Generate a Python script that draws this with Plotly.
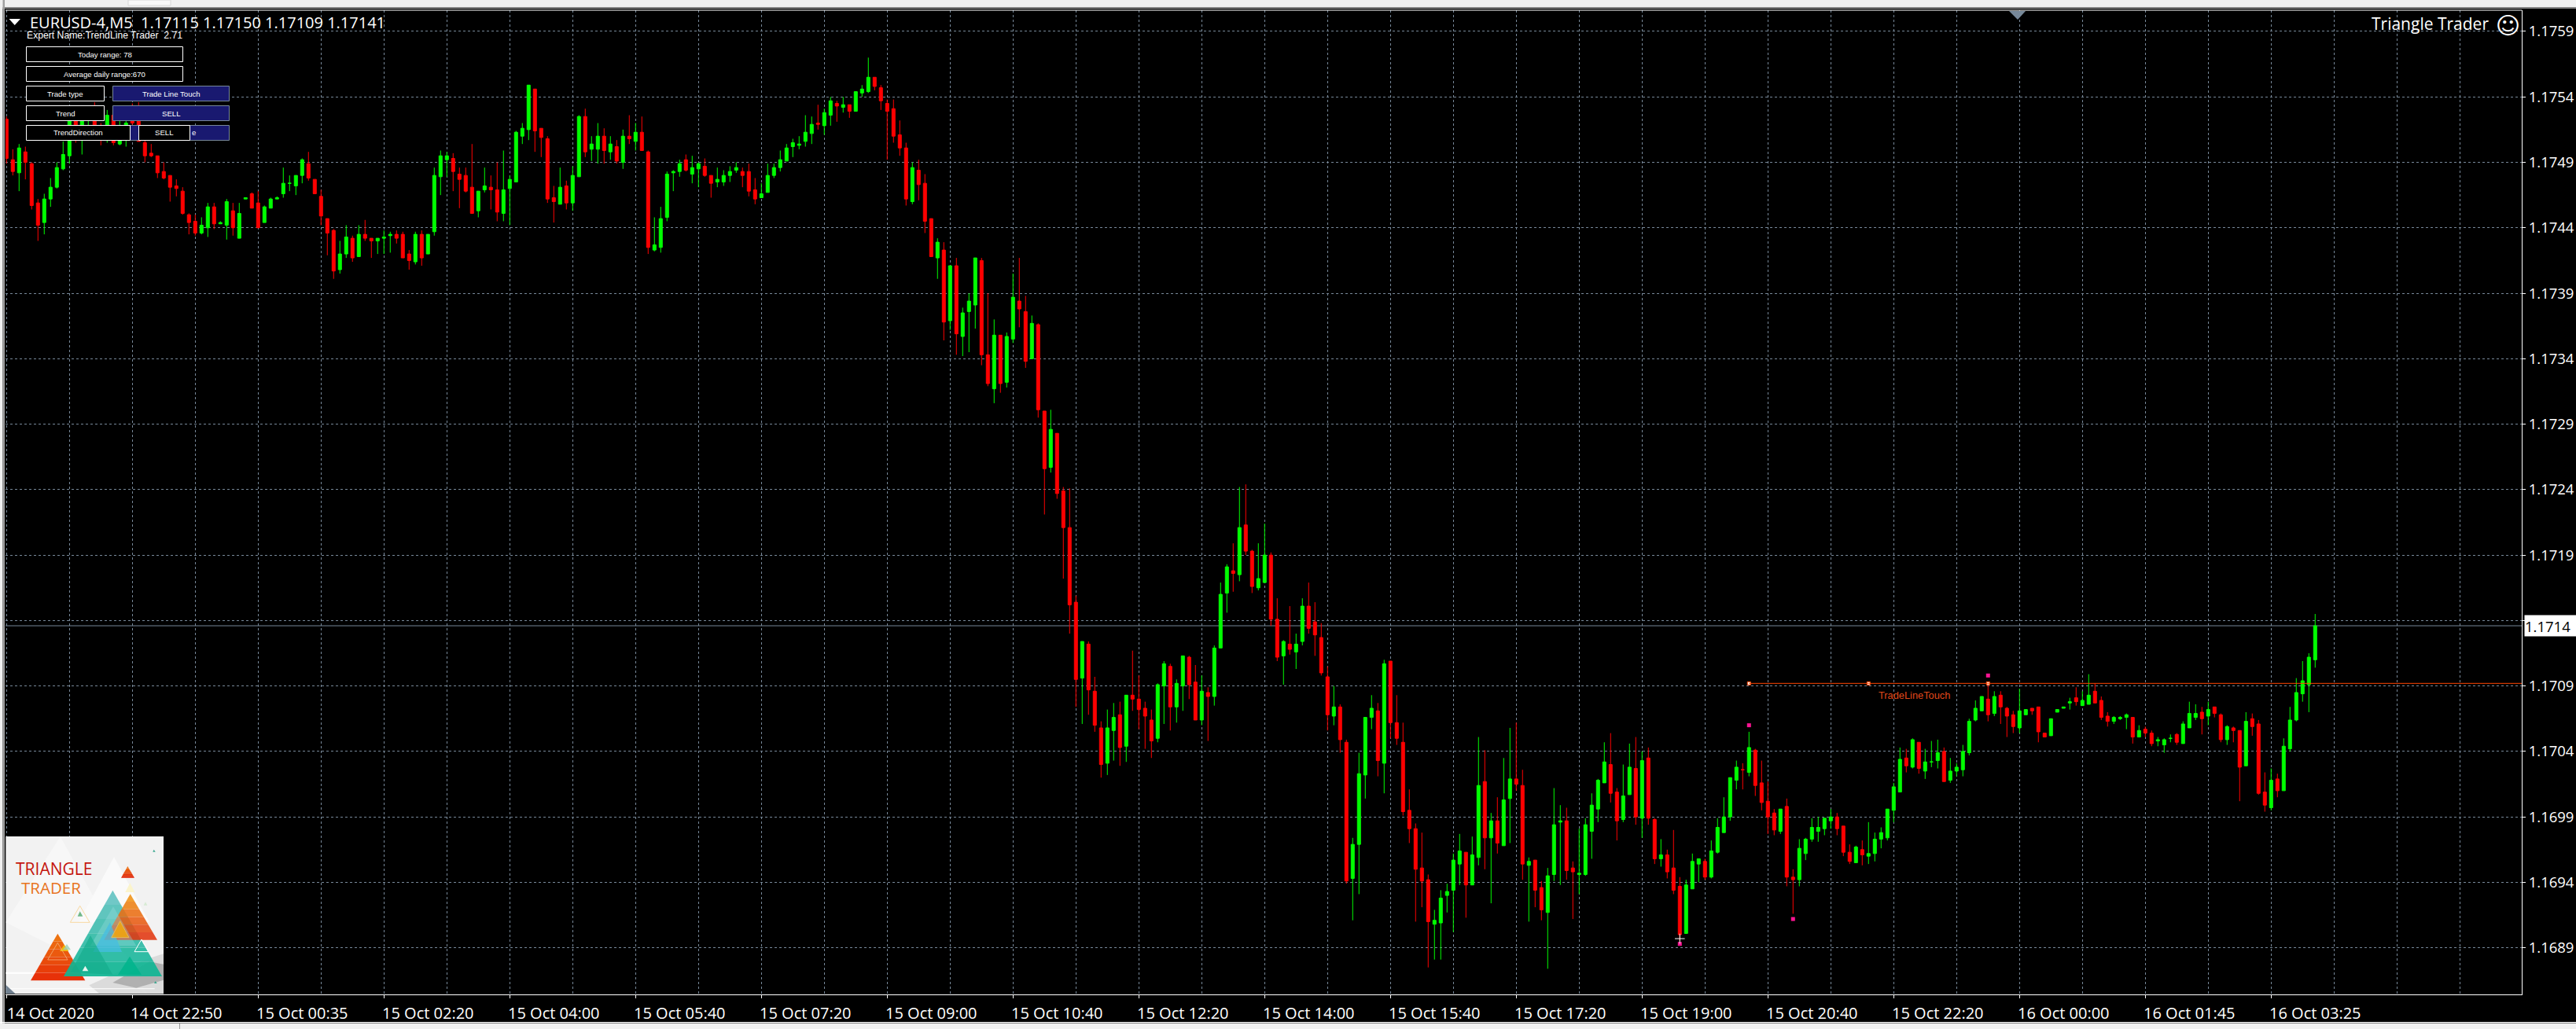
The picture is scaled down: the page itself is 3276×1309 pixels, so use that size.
import plotly.graph_objects as go

# ---------- candle values, in points (1e-5 of a price unit) ----------
direction = ("RRGRRRGGGG" "GRGGRRGRGG" "RRRRRRRRRR" "RGGRGGRGGR" "RGGGGGGGRR"
             "RRRGGRGRRG" "GGRRRGRGGG" "GRRRRGGRRG" "GGGGRRRRGR" "GGRGGRGRGR"
             "GRRGGGGGRG" "GRRGGGGRRR" "GGGGGGGGGR" "GGRGRGGGRR" "RRRRGRRRGR"
             "GRGGGRRGRG" "GRRGRRGRRR" "RGRRRGGRGR" "RRRGGRGGRR" "GRGGGRGRRG"
             "GRRGRGGRRR" "RGRRGGGGRG" "RRRRRRRGGG" "GGRGGRGRGG" "RRGRRGGGRR"
             "GGGGGRRGGR" "GRRGRRRGGG" "RGGGGGGGRR" "RRGRRGGGGG" "GRRRGRGGGG"
             "GGRGRGGGRG" "GGGGGRGRRR" "GGRRRGGGGR" "GGRRRGGGRG" "RRGGGRGGGR"
             "GRRGRRGRRR" "GRGGGGGG")

body_top = [
117528,117497,117506,117503,117494,117464,117467,117476,117491,117501,
117527,117529,117529,117522,117529,117522,117531,117531,117515,117525,
117527,117527,117510,117502,117500,117488,117485,117477,117473,117455,
117450,117447,117461,117461,117449,117465,117458,117456,117468,117471,
117464,117461,117467,117468,117479,117479,117485,117497,117494,117482,
117469,117452,117443,117425,117438,117437,117440,117440,117437,117437,
117438,117440,117440,117440,117425,117440,117440,117440,117485,117500,
117500,117498,117486,117485,117476,117473,117477,117476,117474,117474,
117482,117518,117521,117554,117551,117521,117513,117468,117476,117477,
117485,117530,117530,117509,117515,117515,117509,117507,117515,117515,
117518,117518,117503,117432,117452,117486,117488,117494,117497,117491,
117494,117492,117485,117482,117485,117488,117491,117488,117488,117474,
117471,117485,117491,117497,117506,117510,117509,117518,117524,117525,
117533,117542,117540,117539,117539,117549,117551,117560,117560,117552,
117540,117536,117516,117506,117491,117489,117479,117452,117434,117428,
117416,117416,117380,117389,117422,117420,117348,117363,117363,117362,
117392,117389,117381,117372,117371,117305,117291,117288,117244,117216,
117159,117129,117127,117091,117063,117063,117071,117073,117088,117088,
117085,117078,117069,117096,117112,117110,117097,117118,117117,117098,
117091,117090,117124,117165,117186,117183,117216,117218,117198,117177,
117195,117195,117146,117129,117127,117127,117156,117156,117144,117132,
117102,117079,117079,117052,116974,117028,117071,117078,117076,117112,
117114,117067,117052,117000,116986,116956,116947,116916,116933,116938,
116962,116969,116968,116966,117019,117022,116992,116992,117008,117024,
117024,117019,116961,116962,116941,116950,116989,116992,116992,116956,
116952,116989,117004,117023,117037,117035,117014,117011,117033,117032,
117038,117040,116993,116966,116966,116956,116942,116943,116961,116963,
116961,116969,116987,116995,117025,117033,117031,117048,117046,117021,
117007,116998,117001,117003,116949,116971,116978,116987,116987,116994,
116995,116995,116988,116968,116972,116970,116967,116978,116983,117001,
117018,117039,117040,117054,117052,117037,117037,117044,117045,117030,
117033,117045,117068,117078,117087,117085,117087,117088,117078,117073,
117076,117077,117078,117079,117059,117070,117077,117079,117083,117086,
117084,117088,117091,117084,117072,117071,117071,117073,117071,117061,
117062,117059,117054,117054,117055,117058,117066,117074,117074,117075,
117077,117079,117073,117064,117063,117061,117068,117070,117066,117014,
117023,117024,117049,117069,117090,117099,117117,117141]

body_bottom = [
117498,117488,117487,117495,117462,117447,117449,117467,117476,117490,
117500,117521,117522,117515,117522,117515,117522,117510,117509,117519,
117525,117511,117500,117500,117487,117483,117476,117475,117456,117449,
117441,117441,117445,117448,117448,117447,117445,117437,117467,117460,
117445,117449,117460,117467,117471,117479,117477,117485,117483,117471,
117454,117441,117412,117413,117425,117422,117423,117437,117435,117435,
117437,117439,117437,117422,117420,117419,117422,117425,117442,117484,
117497,117488,117482,117473,117456,117458,117474,117474,117457,117456,
117475,117480,117515,117520,117519,117514,117467,117465,117463,117464,
117464,117484,117503,117505,117505,117504,117503,117496,117495,117513,
117511,117504,117430,117428,117430,117453,117487,117488,117489,117486,
117490,117485,117479,117480,117480,117485,117489,117485,117473,117467,
117468,117472,117485,117491,117496,117507,117508,117511,117517,117524,
117523,117531,117538,117537,117534,117534,117548,117549,117553,117542,
117534,117515,117506,117467,117465,117478,117450,117423,117422,117373,
117374,117364,117362,117381,117386,117348,117326,117322,117326,117327,
117360,117383,117343,117345,117306,117261,117262,117242,117216,117157,
117100,117101,117092,117065,117035,117036,117061,117048,117049,117085,
117077,117072,117053,117055,117095,117079,117079,117095,117096,117069,
117069,117087,117087,117124,117166,117181,117180,117198,117171,117170,
117174,117146,117117,117118,117123,117121,117129,117139,117134,117105,
117073,117072,117054,116946,116948,116974,117027,117071,117038,117036,
117067,117055,116999,116986,116955,116946,116915,116913,116914,116935,
116939,116959,116943,116943,116964,116979,116979,116975,116973,117009,
117020,116959,116958,116939,116924,116922,116951,116991,116954,116953,
116951,116951,116984,117001,117021,117013,116992,116993,117012,116995,
116994,116994,116963,116963,116953,116939,116905,116906,116940,116959,
116949,116949,116968,116983,116995,117023,117031,117029,117019,117006,
116995,116985,116984,116949,116947,116947,116967,116978,116984,116986,
116992,116986,116968,116961,116960,116966,116965,116967,116978,116979,
117000,117014,117034,117033,117032,117030,117037,117038,117022,117023,
117030,117031,117044,117069,117076,117073,117074,117079,117072,117064,
117063,117073,117076,117060,117056,117057,117075,117078,117082,117083,
117080,117081,117082,117071,117068,117068,117070,117071,117056,117056,
117059,117051,117053,117050,117055,117052,117051,117063,117071,117070,
117072,117074,117054,117054,117061,117033,117034,117064,117013,117004,
117002,117015,117015,117047,117069,117089,117096,117115]

highs = [
117530,117505,117509,117507,117495,117467,117471,117483,117495,117511,
117531,117533,117532,117527,117541,117525,117535,117533,117527,117529,
117540,117541,117512,117509,117500,117495,117485,117482,117476,117456,
117455,117453,117464,117464,117450,117467,117464,117464,117468,117472,
117473,117462,117468,117469,117491,117485,117485,117498,117503,117482,
117474,117452,117444,117435,117447,117439,117447,117451,117437,117437,
117443,117442,117443,117442,117428,117442,117443,117440,117491,117504,
117503,117502,117491,117491,117509,117473,117491,117485,117495,117504,
117485,117519,117525,117554,117551,117521,117515,117477,117491,117481,
117492,117531,117536,117515,117525,117521,117515,117512,117520,117531,
117525,117530,117504,117453,117461,117488,117489,117497,117501,117500,
117495,117498,117485,117491,117489,117492,117495,117491,117494,117483,
117479,117494,117494,117504,117509,117513,117515,117531,117530,117539,
117536,117545,117542,117545,117539,117549,117554,117575,117560,117554,
117543,117543,117527,117510,117495,117497,117486,117452,117437,117434,
117416,117422,117384,117395,117422,117422,117395,117375,117363,117365,
117410,117422,117393,117378,117372,117305,117306,117288,117247,117246,
117164,117129,117129,117102,117068,117077,117082,117083,117088,117122,
117103,117083,117077,117097,117114,117112,117100,117118,117118,117111,
117103,117094,117126,117174,117188,117204,117247,117249,117199,117204,
117219,117197,117162,117130,117156,117135,117162,117174,117159,117143,
117110,117095,117081,117054,116979,117044,117071,117088,117082,117115,
117114,117088,117067,117016,116990,116983,116951,116924,116939,116944,
116967,116982,116968,116980,117056,117046,116998,117010,117040,117063,
117067,117031,116964,116962,116946,116956,117017,117004,117002,116961,
116986,116994,117013,117024,117052,117059,117017,117035,117051,117056,
117045,117048,116994,116978,116970,116985,116949,116947,116967,116963,
116963,116977,116994,117010,117025,117038,117036,117060,117047,117038,
117022,117001,117001,117009,116955,116978,116979,116994,116995,116994,
117001,116998,116988,116974,116973,116977,116991,116983,116987,117001,
117021,117048,117047,117055,117052,117047,117053,117054,117048,117040,
117036,117050,117070,117084,117087,117096,117091,117091,117079,117076,
117093,117077,117078,117079,117059,117070,117077,117079,117086,117094,
117091,117104,117097,117087,117075,117072,117072,117074,117071,117065,
117064,117061,117056,117055,117058,117059,117068,117083,117081,117079,
117083,117079,117074,117065,117064,117061,117075,117074,117069,117029,
117032,117028,117055,117079,117101,117114,117120,117150]

lows = [
117494,117485,117473,117482,117459,117435,117440,117461,117475,117489,
117494,117510,117501,117514,117519,117508,117510,117508,117508,117507,
117515,117511,117495,117499,117483,117482,117465,117469,117455,117440,
117439,117440,117438,117444,117448,117436,117439,117437,117467,117460,
117445,117449,117460,117467,117468,117473,117470,117479,117481,117471,
117447,117424,117406,117410,117422,117419,117423,117435,117422,117425,
117425,117426,117433,117422,117413,117417,117416,117425,117439,117470,
117484,117473,117460,117472,117456,117453,117472,117459,117450,117450,
117447,117480,117509,117512,117503,117499,117464,117449,117463,117459,
117458,117484,117499,117496,117494,117494,117497,117494,117490,117509,
117504,117504,117425,117427,117426,117450,117473,117484,117488,117479,
117476,117484,117468,117476,117477,117480,117487,117476,117469,117463,
117468,117472,117483,117488,117496,117499,117505,117507,117509,117520,
117516,117523,117526,117533,117529,117534,117545,117548,117550,117535,
117497,117510,117500,117462,117463,117466,117441,117423,117406,117359,
117367,117348,117347,117350,117368,117340,117324,117311,117319,117323,
117357,117369,117338,117345,117300,117226,117258,117238,117177,117135,
117079,117066,117073,117060,117025,117027,117038,117034,117037,117076,
117062,117047,117040,117052,117066,117061,117067,117076,117085,117069,
117065,117053,117080,117124,117151,117167,117175,117195,117166,117168,
117174,117141,117114,117096,117119,117108,117126,117135,117118,117103,
117061,117065,117044,116944,116916,116936,117009,117062,117026,117013,
117055,117050,116996,116975,116915,116926,116880,116886,116886,116922,
116907,116943,116918,116943,116958,116955,116929,116967,116973,116975,
117015,116947,116915,116926,116916,116879,116946,116943,116947,116917,
116936,116950,116963,116991,117021,117006,116977,116991,117012,116989,
116979,116989,116959,116957,116948,116936,116900,116906,116940,116945,
116947,116948,116967,116983,116992,117016,117016,117026,117011,117000,
116982,116981,116982,116942,116921,116942,116962,116976,116976,116981,
116986,116981,116965,116959,116960,116958,116959,116961,116971,116977,
116991,117014,117029,117032,117028,117024,117033,117032,117022,117021,
117026,117026,117042,117068,117076,117068,117072,117066,117056,117059,
117059,117073,117073,117052,117056,117057,117075,117078,117077,117080,
117080,117081,117082,117069,117064,117066,117069,117062,117051,117056,
117056,117049,117049,117044,117052,117050,117051,117063,117069,117058,
117065,117071,117052,117050,117052,117007,117034,117057,117012,116999,
117000,117010,117015,117045,117068,117083,117075,117109]

# Other values
x_labels = ["14 Oct 2020", "14 Oct 22:50", "15 Oct 00:35", "15 Oct 02:20", "15 Oct 04:00",
            "15 Oct 05:40", "15 Oct 07:20", "15 Oct 09:00", "15 Oct 10:40", "15 Oct 12:20",
            "15 Oct 14:00", "15 Oct 15:40", "15 Oct 17:20", "15 Oct 19:00", "15 Oct 20:40",
            "15 Oct 22:20", "16 Oct 00:00", "16 Oct 01:45", "16 Oct 03:25"]
y_tick_points = [117595, 117545, 117495, 117445, 117395, 117345, 117295, 117245,
                 117195, 117145, 117095, 117045, 116995, 116945, 116895]
y_tick_labels = ["1.1759", "1.1754", "1.1749", "1.1744", "1.1739", "1.1734", "1.1729", "1.1724",
                 "1.1719", "", "1.1709", "1.1704", "1.1699", "1.1694", "1.1689"]
last_price_points = 117141
trend_line_points = 117097
trend_line_start_bar = 277
trend_anchor_bars = [277, 296, 315]
signal_bars = [266, 277, 284, 315]
signal_points = [116898, 117065, 116917, 117103]
cross_bar = [266]
cross_points = [116902]

P = 1e-5
n = len(direction)
bars = list(range(n))
opens = [(b if d == "G" else t) * P for d, t, b in zip(direction, body_top, body_bottom)]
closes = [(t if d == "G" else b) * P for d, t, b in zip(direction, body_top, body_bottom)]

W, H = 3276, 1309
L, R, T, B = 7, 3207, 13, 1265
GRID = "#778899"
FONT = "Open Sans"
SMALL = "Liberation Sans"


def px(x):
    return (x - L) / (R - L)


def py(y):
    return 1 - (y - T) / (B - T)


shapes, ann = [], []


def rect(x0, y0, x1, y1, fill, line=None, lw=1):
    shapes.append(dict(type="rect", xref="paper", yref="paper", layer="above",
                       x0=px(x0), x1=px(x1), y0=py(y0), y1=py(y1), fillcolor=fill,
                       line=dict(color=line or fill, width=lw if line else 0)))


def poly(pts, fill=None, line=None, lw=1, op=1.0):
    path = "M" + " L".join(f"{px(a):.6f},{py(b):.6f}" for a, b in pts) + " Z"
    shapes.append(dict(type="path", xref="paper", yref="paper", layer="above", path=path,
                       fillcolor=fill or "rgba(0,0,0,0)", opacity=op,
                       line=dict(color=line or "rgba(0,0,0,0)", width=lw if line else 0)))


def text(x, y, s, size, color="white", anchor="left", family=FONT, **kw):
    ann.append(dict(xref="paper", yref="paper", x=px(x), y=py(y), text=s, showarrow=False,
                    xanchor=anchor, yanchor="middle", font=dict(family=family, size=size, color=color),
                    borderpad=0, **kw))


# ---------- window frame ----------
rect(0, 0, W, 9.5, "#F0F0F0")
rect(0, 9.5, W, 11, "#8A8A8A")
rect(163, 0, 217, 7, "#F8F8F8", "#D8D8D8")
rect(0, 0, 3.5, H, "#F0F0F0")
rect(3.5, 0, 6, H, "#A0A0A0")
rect(0, 1300, W, 1301.5, "#FFFFFF")
rect(0, 1302, W, H, "#F0F0F0")
rect(228, 1302, 228.8, H, "#808080")
shapes.append(dict(type="line", xref="paper", yref="paper", layer="above", x0=0, x1=1, y0=1, y1=1,
                   line=dict(color="white", width=1)))
poly([(2555, 14), (2576, 14), (2566, 25)], fill="#778899")
poly([(11.5, 24), (26, 24), (18.7, 32)], fill="white")

# ---------- header ----------
text(37, 29, "EURUSD-4,M5\u00a0\u00a01.17115\u00a01.17150\u00a01.17109\u00a01.17141", 20)
text(33, 45, "Expert Name:TrendLine Trader\u00a0\u00a02.71", 12.2, family=SMALL)
text(3166, 30, "Triangle Trader", 21, anchor="right")
text(3189.5, 33, "\u263A", 30, anchor="center", family="DejaVu Sans")


# ---------- panel ----------
def button(x0, y0, x1, y1, label, blue=False, size=9.6):
    rect(x0, y0, x1, y1, "#191970" if blue else "black", "#778899" if blue else "white", 1)
    if label:
        text((x0 + x1) / 2, (y0 + y1) / 2, label, size, anchor="center", family=SMALL)


button(33.5, 59.5, 232.5, 78.5, "Today range: 78")
button(33.5, 84.5, 232.5, 103.5, "Average daily range:670")
button(33.5, 109.5, 132.5, 128.5, "Trade type")
button(143.5, 109.5, 291.5, 128.5, "Trade Line Touch", blue=True)
button(33.5, 134.5, 132.5, 153.5, "Trend")
button(143.5, 134.5, 291.5, 153.5, "SELL", blue=True)
button(143.5, 159.5, 291.5, 178.5, "", blue=True)
text(242.5, 169, "e", 9.6, family=SMALL)
button(33.5, 159.5, 165.5, 178.5, "TrendDirection")
button(176.5, 159.5, 241.5, 178.5, "SELL")


# ---------- logo (drawn in its own 3x coordinates) ----------
def lx(v):
    return v / 3


def ly(v):
    return 1040 + v / 3


def logo_tri(a, b, c, fill=None, line=None, lw=1, op=1.0):
    poly([(lx(p[0]), ly(p[1])) for p in (a, b, c)], fill=fill, line=line, lw=lw, op=op)


def mix(c1, c2, t):
    return "#" + "".join(f"{round(u + (v - u) * t):02X}" for u, v in zip(c1, c2))


def shaded_tri(apex, left, right, c_top, c_bottom, op=1.0, steps=6):
    for k in range(steps):
        t0, t1 = k / steps, (k + 1) / steps
        pts = [(apex[0] + (left[0] - apex[0]) * t0, apex[1] + (left[1] - apex[1]) * t0),
               (apex[0] + (right[0] - apex[0]) * t0, apex[1] + (right[1] - apex[1]) * t0),
               (apex[0] + (right[0] - apex[0]) * t1, apex[1] + (right[1] - apex[1]) * t1),
               (apex[0] + (left[0] - apex[0]) * t1, apex[1] + (left[1] - apex[1]) * t1)]
        poly([(lx(a), ly(b)) for a, b in pts], fill=mix(c_top, c_bottom, (t0 + t1) / 2), op=op)


rect(lx(22), ly(72), lx(624), ly(673), "#F2F2F2")
logo_tri((230, 72), (22, 400), (560, 672), fill="#F7F7F7")
logo_tri((435, 150), (300, 400), (570, 400), fill="#FAFAFA")
poly([(lx(340), ly(640)), (lx(560), ly(540)), (lx(624), ly(520)), (lx(624), ly(673)), (lx(380), ly(673))],
     fill="#C8C8C8", op=0.55)
poly([(lx(430), ly(630)), (lx(570), ly(550)), (lx(624), ly(560)), (lx(624), ly(620)), (lx(520), ly(650))],
     fill="#8C8C8C", op=0.55)
poly([(lx(22), ly(590)), (lx(330), ly(590)), (lx(330), ly(596)), (lx(22), ly(596))], fill="#FFFFFF")
poly([(lx(22), ly(652)), (lx(590), ly(652)), (lx(590), ly(655)), (lx(22), ly(655))], fill="#FFFFFF")
logo_tri((22, 638), (22, 672), (58, 672), fill="#708090")
shaded_tri((220, 443), (117, 622), (325, 622), (0xEE, 0x7A, 0x12), (0xE6, 0x2A, 0x08))
logo_tri((245, 485), (228, 510), (262, 510), fill="#F2B80C")
logo_tri((255, 483), (240, 505), (270, 505), fill="#9CCFB4", op=0.8)
logo_tri((220, 478), (182, 543), (258, 543), line="#F5C08A", lw=1, op=0.7)
shaded_tri((430, 278), (243, 606), (618, 606), (0x6C, 0xC4, 0xC6), (0x08, 0xB4, 0x90), op=0.92)
shaded_tri((497, 292), (397, 467), (600, 467), (0xF0, 0x9A, 0x14), (0xE0, 0x2E, 0x10), op=0.88)
logo_tri((432, 340), (345, 490), (520, 490), fill="#9ADCE0", op=0.35)
logo_tri((420, 400), (355, 513), (465, 513), fill="#46BCE2", op=0.75)
logo_tri((345, 450), (270, 590), (430, 600), fill="#14AC8C", op=0.65)
logo_tri((495, 530), (450, 600), (540, 600), fill="#00B48C", op=0.85)
logo_tri((458, 395), (425, 458), (492, 458), fill="#F2A80C", line="#EDC45C", lw=1, op=0.85)
logo_tri((305, 337), (268, 400), (342, 400), line="#F8D8A0", lw=1)
logo_tri((305, 358), (296, 377), (316, 377), fill="#70B888")
logo_tri((540, 465), (513, 512), (567, 512), line="#FFFFFF", lw=1)
logo_tri((325, 566), (314, 586), (337, 586), fill="#E8F4EE")
logo_tri((587, 122), (583, 131), (593, 131), fill="#3CA890")
logo_tri((593, 624), (588, 633), (599, 633), fill="#3CA890")
logo_tri((555, 322), (548, 335), (562, 335), fill="#CFE8CC", op=0.8)
logo_tri((496, 250), (478, 285), (514, 285), fill="#FBF4CC")
shaded_tri((487, 186), (462, 230), (513, 230), (0xEE, 0x7A, 0x12), (0xE0, 0x22, 0x08))
text(lx(58), ly(195), "TRIANGLE", 21, color="#C4160E")
text(lx(78), ly(266), "TRADER", 20.5, color="#E8741E")

# ---------- label on the last price ----------
ann.append(dict(xref="paper", yref="y", x=px(3210), y=last_price_points * P, text="1.1714",
                showarrow=False, xanchor="left", yanchor="middle", align="left", width=66, height=26,
                bgcolor="white", font=dict(family=FONT, size=18.5, color="black"), borderpad=0))
ann.append(dict(xref="x", yref="y", x=297.4, y=(trend_line_points - 9) * P, text="TradeLineTouch",
                showarrow=False, xanchor="left", yanchor="middle",
                font=dict(family=SMALL, size=12.8, color="#E0481A")))

# ---------- price lines ----------
shapes.append(dict(type="line", xref="paper", yref="y", layer="below", x0=0, x1=1,
                   y0=last_price_points * P, y1=last_price_points * P,
                   line=dict(color=GRID, width=1)))
shapes.append(dict(type="line", xref="x", yref="y", layer="above", x0=trend_line_start_bar, x1=399.84,
                   y0=trend_line_points * P, y1=trend_line_points * P,
                   line=dict(color="#FF4500", width=1)))

fig = go.Figure()
fig.add_trace(go.Candlestick(
    x=bars, open=opens, high=[v * P for v in highs], low=[v * P for v in lows], close=closes,
    whiskerwidth=0,
    increasing=dict(line=dict(color="#00FF00", width=1), fillcolor="#00FF00"),
    decreasing=dict(line=dict(color="#FF0000", width=1), fillcolor="#FF0000"),
    showlegend=False, hoverinfo="skip"))
fig.add_trace(go.Scatter(
    x=signal_bars, y=[v * P for v in signal_points], mode="markers", showlegend=False, hoverinfo="skip",
    marker=dict(symbol="square", size=5, color="#FF1493", line=dict(width=0))))
fig.add_trace(go.Scatter(
    x=trend_anchor_bars, y=[trend_line_points * P] * len(trend_anchor_bars), mode="markers",
    showlegend=False, hoverinfo="skip",
    marker=dict(symbol="square", size=4, color="white", line=dict(color="#FF4500", width=1))))
fig.add_trace(go.Scatter(
    x=cross_bar, y=[v * P for v in cross_points], mode="markers", showlegend=False, hoverinfo="skip",
    marker=dict(symbol="cross-thin", size=9, color="white", line=dict(color="white", width=1))))

fig.update_layout(
    width=W, height=H, autosize=False,
    margin=dict(l=L, r=W - R, t=T, b=H - B, pad=0, autoexpand=False),
    paper_bgcolor="black", plot_bgcolor="black",
    font=dict(family=FONT, size=20, color="white"),
    boxgap=0.5, boxgroupgap=0,
    shapes=shapes, annotations=ann, showlegend=False,
    xaxis=dict(automargin=False, range=[-0.16, 399.84], rangeslider=dict(visible=False), tickmode="array",
               tickvals=bars[0::20][:len(x_labels)], ticktext=x_labels,
               tickfont=dict(family=FONT, size=20, color="white"), ticklabelshift=56,
               tickangle=0, ticks="outside", ticklen=4, tickcolor="white", tickwidth=1,
               ticklabelstandoff=2,
               showgrid=True, gridcolor=GRID, griddash="3px,3px", gridwidth=1,
               minor=dict(tickmode="array", tickvals=list(range(0, 400, 10)), showgrid=True,
                          gridcolor=GRID, griddash="3px,3px", gridwidth=1, ticks=""),
               showline=True, linecolor="white", linewidth=1, zeroline=False),
    yaxis=dict(automargin=False, range=[116859.4 * P, 117611.2 * P], side="right", tickmode="array",
               tickvals=[v * P for v in y_tick_points], ticktext=y_tick_labels,
               tickfont=dict(family=FONT, size=18.5, color="white"),
               ticks="outside", ticklen=4, tickcolor="white", tickwidth=1, ticklabelstandoff=0,
               showgrid=True, gridcolor=GRID, griddash="3px,3px", gridwidth=1,
               showline=True, linecolor="white", linewidth=1, zeroline=False),
)
# The page's default 8px body margin would push the 3276x1309 picture off the window.
fig.write_html("out.html", config=dict(displayModeBar=False),
               post_script="document.body.style.margin='0';document.body.style.overflow='hidden';")
